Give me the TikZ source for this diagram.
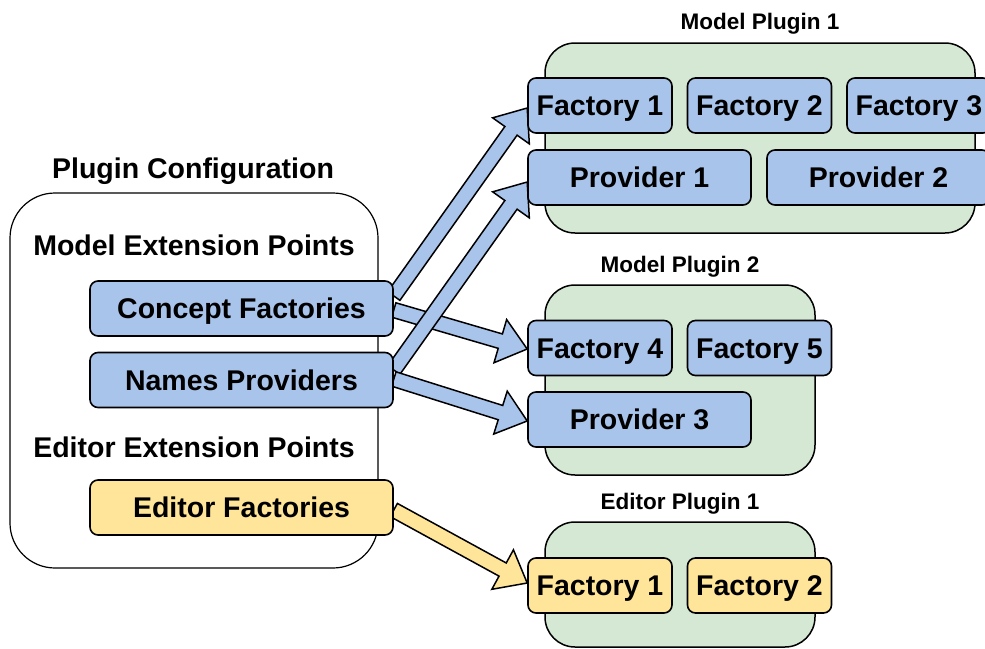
\documentclass[tikz,border=0pt]{standalone}
\usepackage{fontspec}
\setmainfont{Liberation Sans}
\usetikzlibrary{calc}

\definecolor{partblue}{HTML}{A9C4EB}
\definecolor{partyellow}{HTML}{FFE599}
\definecolor{plugingreen}{HTML}{D5E8D4}

\pgfdeclarelayer{arrows}
\pgfsetlayers{arrows,main}

\newcommand{\labelfont}{\fontsize{28.5}{32}\selectfont\bfseries}
\newcommand{\titlefont}{\fontsize{22.5}{26}\selectfont\bfseries}

% wide outlined arrow, filled with #1, from #2 to #3
\newcommand{\fatarrow}[3]{%
  \draw[line width=1.5pt, fill=#1, line join=miter]
    let \p1=($(#3)-(#2)$), \n1={atan2(\y1,\x1)}, \n2={veclen(\x1,\y1)} in
    [shift={(#2)}, rotate=\n1]
    (0pt,-7.5pt) -- (\n2-28pt,-7.5pt) -- (\n2-28pt,-22.5pt) -- (\n2,0pt)
    -- (\n2-28pt,22.5pt) -- (\n2-28pt,7.5pt) -- (0pt,7.5pt) -- cycle;}

\begin{document}
\begin{tikzpicture}[x=1pt, y=-1pt,
    part/.style={draw, line width=1.6pt, rounded corners=8pt, inner sep=0pt,
      minimum height=55pt, text height=20pt, text depth=0pt, font=\labelfont},
    factory/.style={part, minimum width=144pt},
    provider/.style={part, minimum width=223pt},
    extpoint/.style={part, minimum width=303pt},
    plugin/.style={draw, line width=1.5pt, fill=plugingreen, rounded corners=30pt},
    heading/.style={inner sep=0pt, text height=20pt, text depth=0pt, font=\labelfont},
    plugtitle/.style={inner sep=0pt, text height=16pt, text depth=0pt, font=\titlefont}]

    \useasboundingbox (0,0) rectangle (985,648);

    % configuration side
    \node[draw, line width=1.2pt, rounded corners=45pt, minimum width=368pt,
          minimum height=375pt] (cfg) at (194,380.5) {};
    \node[heading] (cfg-title) at (193,168) {Plugin Configuration};
    \node[heading] (mep) at (194,245) {Model Extension Points};
    \node[extpoint, fill=partblue] (cf) at (241.5,308.5) {Concept Factories};
    \node[extpoint, fill=partblue] (np) at (241.5,380) {Names Providers};
    \node[heading] (eep) at (194,447) {Editor Extension Points};
    \node[extpoint, fill=partyellow] (ef) at (241.5,507.5) {Editor Factories};

    % plugins
    \node[plugin, minimum width=430pt, minimum height=190pt] (mp1) at (760,138) {};
    \node[plugtitle] at ([yshift=21pt]mp1.north) {Model Plugin 1};
    \node[factory, fill=partblue] (f1) at (600,105.5) {Factory 1};
    \node[factory, fill=partblue] (f2) at (759.5,105.5) {Factory 2};
    \node[factory, fill=partblue] (f3) at (919,105.5) {Factory 3};
    \node[provider, fill=partblue] (p1) at (639.5,177.5) {Provider 1};
    \node[provider, fill=partblue] (p2) at (878.5,177.5) {Provider 2};

    \node[plugin, minimum width=270pt, minimum height=190pt] (mp2) at (680,380) {};
    \node[plugtitle] at ([yshift=20pt]mp2.north) {Model Plugin 2};
    \node[factory, fill=partblue] (f4) at (600,348) {Factory 4};
    \node[factory, fill=partblue] (f5) at (759.5,348) {Factory 5};
    \node[provider, fill=partblue] (p3) at (639.5,419.5) {Provider 3};

    \node[plugin, minimum width=270pt, minimum height=125pt] (ep1) at (680,584.5) {};
    \node[plugtitle] at ([yshift=20pt]ep1.north) {Editor Plugin 1};
    \node[factory, fill=partyellow] (ef1) at (600,585.5) {Factory 1};
    \node[factory, fill=partyellow] (ef2) at (759.5,585.5) {Factory 2};

    % arrow ends
    \coordinate (cf-up) at ($(cf.east)+(0,-12.5)$);
    \coordinate (cf-dn) at ($(cf.east)+(0,1.5)$);
    \coordinate (np-up) at ($(np.east)+(0,-10)$);
    \coordinate (np-dn) at ($(np.east)+(0,-1)$);
    \coordinate (ef-out) at ($(ef.east)+(0,2.5)$);
    \coordinate (f1-in) at ($(f1.west)+(0,2.5)$);
    \coordinate (p1-in) at ($(p1.west)+(0,4.5)$);
    \coordinate (f4-in) at ($(f4.west)+(0,1)$);
    \coordinate (p3-in) at ($(p3.west)+(0,1.5)$);
    \coordinate (ef1-in) at ($(ef1.west)+(0,-2.5)$);

    % Draw arrows below the boxes
    \begin{pgfonlayer}{arrows}
        \foreach \from/\to in {cf-up/f1-in, cf-dn/f4-in, np-up/p1-in, np-dn/p3-in} {
            \fatarrow{partblue}{\from}{\to}
        }
        \fatarrow{partyellow}{ef-out}{ef1-in}
    \end{pgfonlayer}

\end{tikzpicture}
\end{document}
